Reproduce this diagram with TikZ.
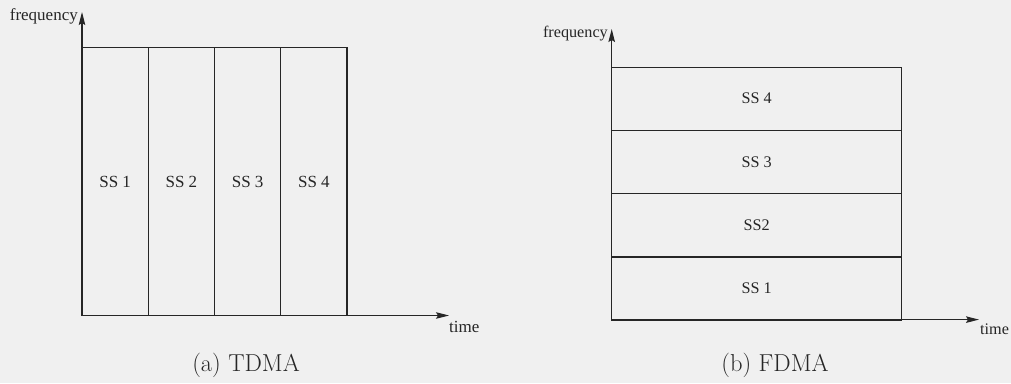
\documentclass[tikz,border=0pt]{standalone}
\usepackage{fontspec}
\newfontfamily\tms{Liberation Serif}
\usetikzlibrary{arrows.meta}
\definecolor{bg}{gray}{0.94}
\definecolor{ink}{gray}{0.15}
\tikzset{
  lbl/.style={inner sep=0pt, text=ink, font=\tms\fontsize{17}{20}\selectfont},
  lblr/.style={inner sep=0pt, text=ink, font=\tms\fontsize{16.2}{19}\selectfont},
  cell/.style={draw=ink, line width=1.1pt, inner sep=0pt, text=ink},
  axis/.style={draw=ink, line width=1.1pt, -{Stealth[length=13pt,width=6.5pt,inset=2pt]}},
  capt/.style={inner sep=0pt, text=ink, font=\fontsize{24.5}{29}\selectfont}
}
\begin{document}
\begin{tikzpicture}[x=1pt,y=-1pt]
\fill[bg] (0,0) rectangle (1011,383);
\useasboundingbox (0,0) rectangle (1011,383);
% ---- (a) TDMA ----
\foreach \i/\cx in {1/115.15,2/181.4,3/247.65,4/313.9}{
  \node[cell,lbl,draw=ink,minimum width=66.25pt,minimum height=268pt] (t\i) at (\cx,181.5) {SS \i};
}
\coordinate (oa) at (82,315.5);
\coordinate (fa) at (82,12);
\coordinate (ta) at (449,315.5);
\draw[axis] (oa) -- (fa);
\draw[axis] (oa) -- (ta);
\node[lbl,anchor=base east] (fla) at (78,20) {frequency};
\node[lbl,anchor=base west] (tla) at (449,332) {time};
\node[capt,anchor=base] (ca) at (246,371) {(a) TDMA};
% ---- (b) FDMA ----
\foreach \i/\cy/\t in {4/98.7/SS 4,3/162/SS 3,2/225.3/SS2,1/288.3/SS 1}{
  \node[cell,lblr,draw=ink,minimum width=290pt,minimum height=63.3pt] (f\i) at (756.7,\cy) {\t};
}
\coordinate (ob) at (611.7,319.6);
\coordinate (fb) at (611.7,29);
\coordinate (tb) at (979,319.6);
\draw[axis] (ob) -- (fb);
\draw[axis] (ob) -- (tb);
\node[lblr,anchor=base east] (flb) at (608,37.5) {frequency};
\node[lblr,anchor=base west] (tlb) at (980,334) {time};
\node[capt,anchor=base] (cb) at (775,371) {(b) FDMA};
\end{tikzpicture}
\end{document}
